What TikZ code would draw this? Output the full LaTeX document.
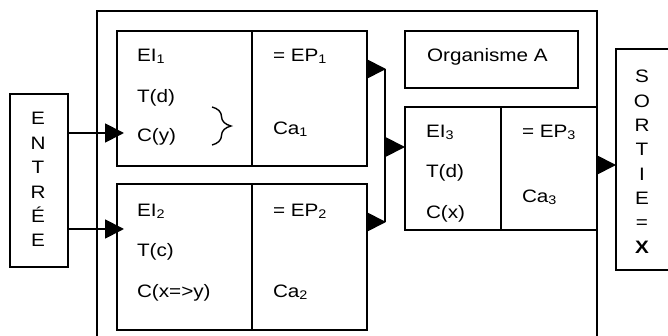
\documentclass[tikz,border=0pt]{standalone}
\usepackage{fontspec}
\setmainfont{Liberation Sans}[FakeStretch=1.15]
\usetikzlibrary{arrows.meta,decorations.pathreplacing}
\newcommand{\mysub}[1]{\raisebox{-2pt}{\fontsize{12.5}{12.5}\selectfont #1}}
\begin{document}
\begin{tikzpicture}[x=1pt,y=-1pt,
  box/.style={draw, line width=1.8pt, rectangle, inner sep=0pt, outer sep=0pt, anchor=north west},
  lbl/.style={inner sep=0pt, outer sep=0pt, anchor=base west, font=\fontsize{18}{24}\selectfont},
  letter/.style={inner sep=0pt, outer sep=0pt, anchor=base, font=\fontsize{18}{24}\selectfont},
  wire/.style={line width=1.8pt},
  arr/.style={wire, -{Triangle[length=19pt,width=19pt]}},
]
\useasboundingbox (0,0) rectangle (668,336);
\clip (0,0) rectangle (668,336);

% boxes
\node[box, minimum width=500pt, minimum height=360pt] (outer) at (97,11) {};
\node[box, minimum width=58pt, minimum height=173pt] (entree) at (10,94) {};
\node[box, minimum width=80pt, minimum height=221pt] (sortie) at (616,49) {};
\node[box, minimum width=135pt, minimum height=135pt] (b1a) at (117,31) {};
\node[box, minimum width=115pt, minimum height=135pt] (b1b) at (252,31) {};
\node[box, minimum width=135pt, minimum height=146pt] (b2a) at (117,184) {};
\node[box, minimum width=115pt, minimum height=146pt] (b2b) at (252,184) {};
\node[box, minimum width=96pt, minimum height=123pt] (b3a) at (405,107) {};
\node[box, minimum width=96pt, minimum height=123pt] (b3b) at (501,107) {};
\node[box, minimum width=173pt, minimum height=57pt] (org) at (405,31) {};

% texts
\node[lbl] (orgt) at (427,62) {Organisme A};
\node[lbl] (ei1) at (137,62) {EI\mysub{1}};
\node[lbl] (td1) at (137,102.5) {T(d)};
\node[lbl] (cy1) at (137,142) {C(y)};
\node[lbl] (ep1) at (273,62) {= EP\mysub{1}};
\node[lbl] (ca1) at (273,135) {Ca\mysub{1}};
\node[lbl] (ei2) at (137,217) {EI\mysub{2}};
\node[lbl] (tc2) at (137,257) {T(c)};
\node[lbl] (cxy2) at (137,297) {C(x=>y)};
\node[lbl] (ep2) at (273,217) {= EP\mysub{2}};
\node[lbl] (ca2) at (273,297) {Ca\mysub{2}};
\node[lbl] (ei3) at (426,138) {EI\mysub{3}};
\node[lbl] (td3) at (426,178) {T(d)};
\node[lbl] (cx3) at (426,219) {C(x)};
\node[lbl] (ep3) at (522,138) {= EP\mysub{3}};
\node[lbl] (ca3) at (522,203) {Ca\mysub{3}};

\foreach \l [count=\i from 0] in {E,N,T,R,É,E}
  \node[letter] (en\i) at (38,{125+24.4*\i}) {\l};
\foreach \l [count=\i from 0] in {S,O,R,T,I,E,=,\textbf{X}}
  \node[letter] (so\i) at (642,{83+24.3*\i}) {\l};

% brace
\draw[line width=1.4pt, decorate, decoration={brace, amplitude=19pt}] (212,107) -- (212,145);

% connectors
\coordinate (in1) at (124,133);
\coordinate (in2) at (124,229);
\draw[arr] (entree.east |- in1) -- (in1);
\draw[arr] (entree.east |- in2) -- (in2);
\coordinate (vtop) at (386,69);
\coordinate (vbot) at (386,222);
\coordinate (vmid) at (385,147);
\draw[arr] (b1b.east |- vtop) -- (vtop);
\draw[arr] (b2b.east |- vbot) -- (vbot);
\draw[wire] (385,69) -- (385,222);
\draw[arr] (vmid) -- (b3a.west |- vmid);
\coordinate (o3) at (597,165);
\draw[arr] (o3) -- (sortie.west |- o3);
\end{tikzpicture}
\end{document}
